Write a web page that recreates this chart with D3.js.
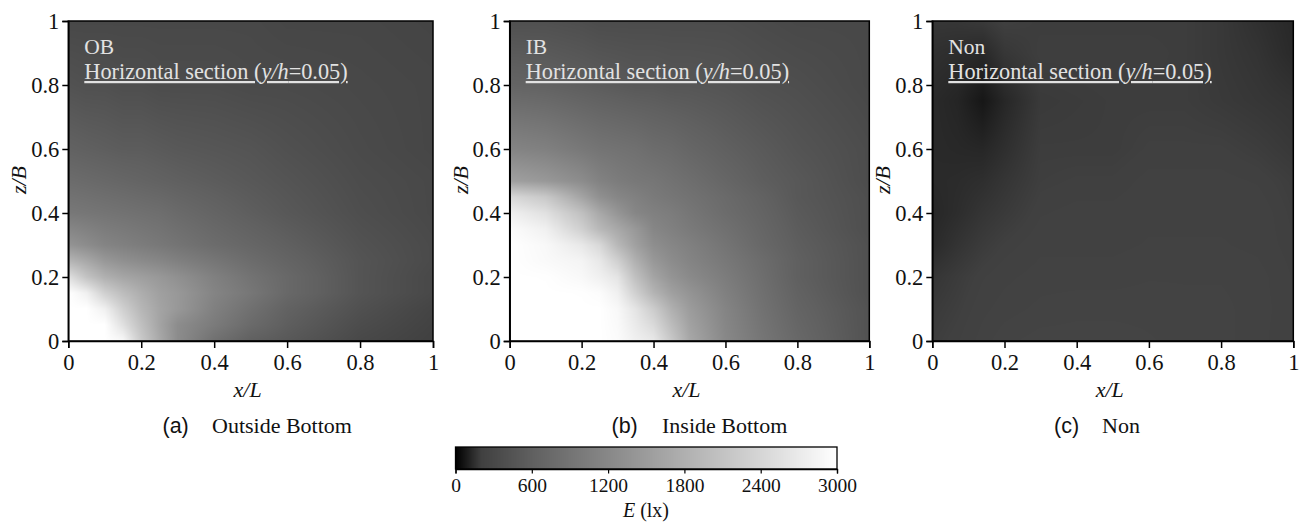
<!DOCTYPE html>
<html><head><meta charset="utf-8">
<script src="https://cdn.jsdelivr.net/npm/d3@7"></script>
<style>
html,body{margin:0;padding:0;background:#fff}
svg{display:block}
.t{font-family:"Liberation Serif",serif;fill:#111}
</style></head><body>
<svg id="c" width="1303" height="522"></svg>
<script>
const axisTicks=[0,0.2,0.4,0.6,0.8,1];
const colorTicks=[0,600,1200,1800,2400,3000];
const colorStops=[0,100,200,600,1200,1800,2400,3000];
const colorGrays=[0,32,64,96,136,176,214,255];
const panelNames=["OB","IB","Non"];
const captionTags=["(a)","(b)","(c)"];
const captionNames=["Outside Bottom","Inside Bottom","Non"];

const obX=[0,.05,.1,.15,.2,.25,.3,.4,.5,.6,.8,1];
const obZ=[0,.05,.1,.15,.2,.25,.3,.4,.5,.6,.8,1];
const obE=[
[3000,3000,3000,2900,2200,1700,1260,840,600,500,300,200],
[3000,3000,3000,2550,2050,1620,1260,1000,750,575,350,225],
[3000,3000,2780,2300,1900,1620,1440,1080,840,630,400,250],
[3000,2780,2300,2000,1760,1560,1440,1140,940,720,450,300],
[2550,2100,1800,1640,1540,1440,1320,1080,880,720,450,300],
[1880,1680,1440,1320,1240,1170,1080,930,780,660,450,325],
[1380,1260,1140,1080,1020,960,900,780,690,600,425,325],
[960,930,900,870,840,810,750,660,575,500,375,300],
[780,750,720,690,660,630,600,550,500,450,350,300],
[630,600,575,550,550,525,500,475,450,400,325,275],
[425,400,400,375,375,350,350,350,325,325,300,275],
[300,300,300,300,300,300,300,300,300,275,275,250]];

const ibX=[0,.1,.2,.25,.3,.35,.4,.45,.5,.6,.7,.8,1];
const ibZ=[0,.1,.15,.2,.25,.3,.35,.4,.45,.5,.6,.8,1];
const ibE=[
[3000,3000,3000,3000,2950,2780,2665,2180,1680,1200,930,720,425],
[3000,3000,3000,3000,2900,2610,2240,1800,1500,1140,870,660,425],
[3000,3000,2990,2950,2780,2305,1860,1560,1380,1080,840,630,400],
[3000,2990,2900,2780,2610,2050,1620,1380,1230,1020,810,600,400],
[3000,2920,2840,2665,2305,1800,1440,1260,1140,960,780,600,400],
[3000,2900,2665,2430,1925,1560,1290,1170,1080,900,720,575,400],
[2950,2780,2300,1925,1680,1440,1170,1080,990,840,690,550,375],
[2780,2550,2050,1680,1400,1170,1080,1020,930,780,660,525,375],
[2430,2180,1620,1320,1170,1080,990,930,870,750,630,500,375],
[1560,1440,1260,1110,1020,960,930,870,810,690,575,500,350],
[1140,1080,960,900,870,840,780,750,690,600,525,450,350],
[660,630,575,550,525,500,500,475,475,450,400,375,300],
[400,400,375,350,350,350,350,350,350,350,325,300,300]];

const nonX=[0,.07,.14,.2,.3,.4,.5,.6,.7,.8,.9,1];
const nonZ=[0,.1,.2,.3,.4,.5,.6,.75,.9,1];
const nonE=[
[190,205,225,240,250,250,250,245,240,235,225,205],
[180,195,215,225,235,240,240,240,235,235,225,210],
[165,185,205,215,225,225,225,230,230,230,225,205],
[130,160,185,200,215,215,215,220,220,220,215,200],
[120,140,165,180,205,210,210,215,215,215,215,195],
[130,135,145,165,195,200,200,210,210,210,205,190],
[130,125,120,145,190,190,190,200,200,200,190,175],
[130,115,70,120,180,185,190,190,190,180,170,160],
[150,140,125,170,195,195,195,195,190,175,160,130],
[170,170,180,200,190,190,190,190,190,175,150,125]];

const panelData=[[obX,obZ,obE],[ibX,ibZ,ibE],[nonX,nonZ,nonE]];

const svg=d3.select("#c");
const gray=d3.scaleLinear().domain(colorStops).range(colorGrays).clamp(true);
const panelLeft=[68.3,509.7,932.3], panelRight=[433,869.3,1293.3];
const plotTop=21, plotBottom=341;

function sample(xs,zs,vals,x,z){
  const i=Math.max(0,Math.min(xs.length-2,d3.bisectRight(xs,x)-1));
  const j=Math.max(0,Math.min(zs.length-2,d3.bisectRight(zs,z)-1));
  const u=(x-xs[i])/(xs[i+1]-xs[i]), v=(z-zs[j])/(zs[j+1]-zs[j]);
  return (vals[j][i]*(1-u)+vals[j][i+1]*u)*(1-v)+(vals[j+1][i]*(1-u)+vals[j+1][i+1]*u)*v;
}
function paint(g,x0,y0,w,h,fn){
  const cv=document.createElement("canvas");cv.width=w;cv.height=h;
  const ctx=cv.getContext("2d"),img=ctx.createImageData(w,h);
  for(let py=0;py<h;py++)for(let px=0;px<w;px++){
    const c=Math.round(gray(fn(px+.5,py+.5))),k=(py*w+px)*4;
    img.data[k]=img.data[k+1]=img.data[k+2]=c;img.data[k+3]=255;
  }
  ctx.putImageData(img,0,0);
  g.append("image").attr("x",x0).attr("y",y0).attr("width",w).attr("height",h)
   .attr("href",cv.toDataURL());
}
function styleAxis(a,size){
  a.selectAll("path").attr("stroke","#000").attr("stroke-width",1.5);
  a.selectAll("line").attr("stroke","#000").attr("stroke-width",1.5);
  a.selectAll("text").attr("class","t").attr("font-size",size).attr("fill","#111")
    .style("font-family",'"Liberation Serif",serif');
}

panelData.forEach(([xs,zs,vals],n)=>{
  const L=panelLeft[n],R=panelRight[n];
  const x=d3.scaleLinear().domain([0,1]).range([L,R]);
  const y=d3.scaleLinear().domain([0,1]).range([plotBottom,plotTop]);
  const g=svg.append("g");
  const x0=Math.round(L),w=Math.round(R)-x0;
  paint(g,x0,plotTop,w,plotBottom-plotTop,(px,py)=>sample(xs,zs,vals,x.invert(x0+px),y.invert(plotTop+py)));
  g.append("rect").attr("x",L).attr("y",plotTop).attr("width",R-L).attr("height",plotBottom-plotTop)
    .attr("fill","none").attr("stroke","#000").attr("stroke-width",1.5);
  const ax=g.append("g").attr("transform",`translate(0,${plotBottom})`)
    .call(d3.axisBottom(x).tickValues(axisTicks).tickFormat(d=>d).tickSize(7).tickPadding(6));
  styleAxis(ax,22.5);
  const ay=g.append("g").attr("transform",`translate(${L},0)`)
    .call(d3.axisLeft(y).tickValues(axisTicks).tickFormat(d=>d).tickSize(6).tickPadding(3));
  styleAxis(ay,22.5);
  g.append("text").attr("class","t").attr("x",(L+R)/2-3).attr("y",397).attr("text-anchor","middle")
    .attr("font-size",22).attr("font-style","italic").text("x/L");
  g.append("text").attr("class","t").attr("transform",`translate(${L-42},180) rotate(-90)`)
    .attr("text-anchor","middle").attr("font-size",22).attr("font-style","italic").text("z/B");
  const tx=L+16;
  g.append("text").attr("class","t").attr("x",tx).attr("y",54).attr("font-size",21.5)
    .style("fill","#e2e2e2").text(panelNames[n]);
  const sec=g.append("text").attr("class","t").attr("x",tx).attr("y",79).attr("font-size",22.3)
    .style("fill","#e2e2e2").attr("text-decoration","underline");
  sec.append("tspan").text("Horizontal section (");
  sec.append("tspan").attr("font-style","italic").text("y/h");
  sec.append("tspan").text("=0.05)");
  const capX=[162.5,611.5,1054][n], nameX=[212,662,1102][n];
  g.append("text").attr("x",capX).attr("y",432.5).attr("font-size",21.5).attr("fill","#111")
    .style("font-family",'"Liberation Sans",sans-serif').text(captionTags[n]);
  g.append("text").attr("class","t").attr("x",nameX).attr("y",432.5).attr("font-size",22).text(captionNames[n]);
});

// colour bar
const cbL=455.5,cbR=837,cbT=447,cbB=469;
const cx=d3.scaleLinear().domain([0,3000]).range([cbL,cbR]);
const cg=svg.append("g");
paint(cg,Math.round(cbL),cbT,Math.round(cbR-cbL),cbB-cbT,px=>cx.invert(cbL+px));
cg.append("rect").attr("x",cbL).attr("y",cbT).attr("width",cbR-cbL).attr("height",cbB-cbT)
  .attr("fill","none").attr("stroke","#000").attr("stroke-width",1.3);
const ca=cg.append("g").attr("transform",`translate(0,${cbB})`)
  .call(d3.axisBottom(cx).tickValues(colorTicks).tickFormat(d=>d).tickSize(4.5).tickPadding(4.5));
styleAxis(ca,19.5);
ca.selectAll("path").attr("stroke-width",1.3);
ca.selectAll("line").attr("stroke-width",1.2);
const ct=cg.append("text").attr("class","t").attr("x",646).attr("y",517).attr("text-anchor","middle").attr("font-size",20);
ct.append("tspan").attr("font-style","italic").text("E");
ct.append("tspan").text(" (lx)");
</script></body></html>
